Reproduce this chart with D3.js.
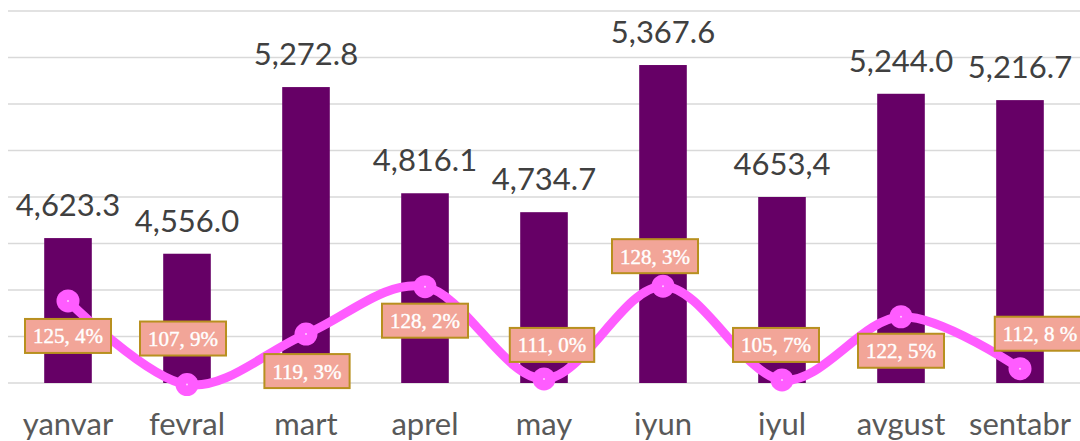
<!DOCTYPE html>
<html>
<head>
<meta charset="utf-8">
<script src="https://cdn.jsdelivr.net/npm/d3@7"></script>
<style>
  html, body { margin: 0; padding: 0; background: #ffffff; }
  svg { display: block; }
</style>
</head>
<body>
<svg id="chart" width="1080" height="441"></svg>
<script>
// ---- data ----
const months = ["yanvar", "fevral", "mart", "aprel", "may", "iyun", "iyul", "avgust", "sentabr"];
const barValues = [4623.3, 4556.0, 5272.8, 4816.1, 4734.7, 5367.6, 4800.0, 5244.0, 5216.7];
const barLabels = ["4,623.3", "4,556.0", "5,272.8", "4,816.1", "4,734.7", "5,367.6", "4653,4", "5,244.0", "5,216.7"];
const growthValues = [125.4, 109.0, 118.9, 128.2, 110.1, 128.3, 109.9, 122.3, 112.1];
const growthLabels = ["125, 4%", "107, 9%", "119, 3%", "128, 2%", "111, 0%", "128, 3%", "105, 7%", "122, 5%", "112, 8 %"];
const yTicks = [4000, 4200, 4400, 4600, 4800, 5000, 5200, 5400, 5600];

// ---- layout (not data) ----
const labelDy = [35, -46, 37, 34, -34, -30, -35, 34, -35];
const labelDx = [0, -4, 1, 0, 8, -8, -6, 0, 20];

const svg = d3.select("#chart");
const W = 1080, H = 441;
const plotTop = 11, plotBottom = 383, plotLeft = 8.5, plotRight = 1079.5;

const x = d3.scaleBand().domain(months).range([plotLeft, plotRight])
  .paddingInner(0.6).paddingOuter(0.3);
const y = d3.scaleLinear().domain([4000, 5600]).range([plotBottom, plotTop]);
const y2 = d3.scaleLinear().domain([109.3, 182.3]).range([plotBottom, plotTop]);

// gridlines
svg.append("g").selectAll("line").data(yTicks).join("line")
  .attr("x1", 8).attr("x2", W)
  .attr("y1", d => y(d)).attr("y2", d => y(d))
  .attr("stroke", "#d9d9d9").attr("stroke-width", 1.5);

// bars
svg.append("g").selectAll("rect").data(months).join("rect")
  .attr("x", d => x(d))
  .attr("width", x.bandwidth())
  .attr("y", (d, i) => y(barValues[i]))
  .attr("height", (d, i) => y(4000) - y(barValues[i]))
  .attr("fill", "#660066");

// bar value labels
svg.append("g").selectAll("text").data(months).join("text")
  .attr("x", d => x(d) + x.bandwidth() / 2)
  .attr("y", (d, i) => y(barValues[i]) - 22)
  .attr("text-anchor", "middle")
  .attr("font-family", "Lato, 'Open Sans', sans-serif")
  .attr("font-size", 31)
  .attr("fill", "#404040")
  .text((d, i) => barLabels[i]);

// x axis labels
const xAxis = d3.axisBottom(x).tickSize(0).tickPadding(0);
const gx = svg.append("g").attr("transform", `translate(0,${plotBottom})`).call(xAxis);
gx.select(".domain").remove();
gx.selectAll("text")
  .attr("dy", null)
  .attr("y", 52)
  .attr("font-family", "Lato, 'Open Sans', sans-serif")
  .attr("font-size", 31)
  .attr("fill", "#595959");

// line
const pts = months.map((m, i) => [x(m) + x.bandwidth() / 2, y2(growthValues[i])]);
const line = d3.line().curve(d3.curveCatmullRom.alpha(0));
svg.append("path")
  .attr("d", line(pts))
  .attr("fill", "none")
  .attr("stroke", "#ff5cff")
  .attr("stroke-width", 9)
  .attr("stroke-linecap", "round");

svg.append("g").selectAll("circle").data(pts).join("circle")
  .attr("cx", d => d[0]).attr("cy", d => d[1]).attr("r", 11.5)
  .attr("fill", "#ff5cff");
svg.append("g").selectAll("circle").data(pts).join("circle")
  .attr("cx", d => d[0]).attr("cy", d => d[1]).attr("r", 1)
  .attr("fill", "#ffd0ff");

// line labels
const lg = svg.append("g");
growthLabels.forEach((lab, i) => {
  const cx = pts[i][0] + labelDx[i];
  const cy = pts[i][1] + labelDy[i];
  const g = lg.append("g");
  const rect = g.append("rect");
  const t = g.append("text")
    .attr("x", cx).attr("y", cy + 7.5)
    .attr("text-anchor", "middle")
    .attr("font-family", "'Liberation Serif', 'DejaVu Serif', serif")
    .attr("font-size", 21)
    .attr("fill", "#ffffff")
    .attr("stroke", "#ffffff")
    .attr("stroke-width", 0.4)
    .text(lab);
  const tw = t.node().getComputedTextLength();
  const w = Math.max(82, tw + 16);
  rect.attr("x", cx - w / 2).attr("y", cy - 17).attr("width", w).attr("height", 34)
    .attr("fill", "#f2a598").attr("stroke", "#b8901f").attr("stroke-width", 2);
});
</script>
</body>
</html>
